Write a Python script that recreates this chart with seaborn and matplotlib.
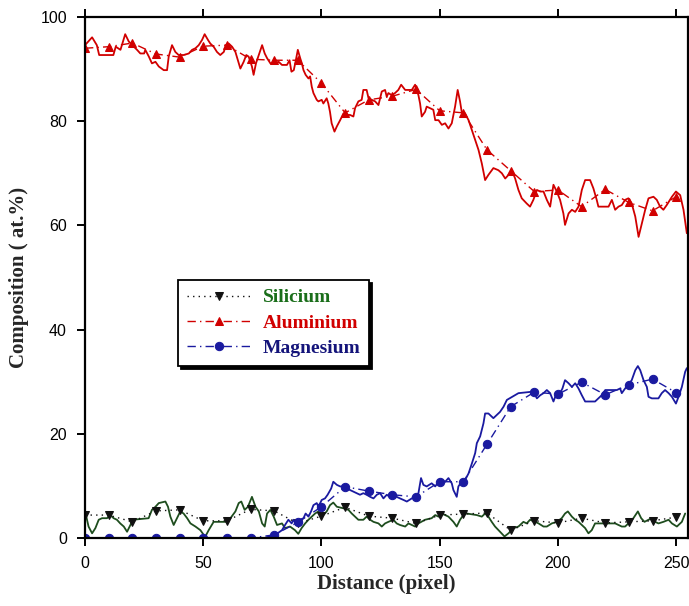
import numpy as np
import pandas as pd
import matplotlib
matplotlib.use("Agg")
import matplotlib.pyplot as plt
import seaborn as sns

# ---------------- data ----------------
mark_x = [0, 10, 20, 30, 40, 50, 60, 70, 80, 90, 100, 110, 120, 130, 140, 150,
          160, 170, 180, 190, 200, 210, 220, 230, 240, 250]
si_mark = [4.4, 4.4, 3.1, 5.2, 5.4, 3.3, 3.3, 5.5, 5.2, 2.8, 4.2, 5.9, 4.2, 3.8,
           2.8, 4.4, 4.6, 4.8, 1.5, 3.3, 2.9, 3.8, 2.9, 3.1, 3.3, 4.0]
al_mark = [94.0, 94.3, 95.0, 92.9, 92.3, 94.4, 94.6, 91.9, 91.7, 91.7, 87.3, 81.6,
           84.1, 84.8, 86.1, 82.0, 81.6, 74.5, 70.5, 66.5, 66.8, 63.6, 66.9, 64.4,
           62.8, 65.5]
mg_mark = [0, 0, 0, 0, 0, 0, 0, 0, 0.6, 3.0, 6.0, 9.85, 9.0, 8.3, 7.9, 10.8, 10.8,
           18.0, 25.2, 28.0, 27.6, 29.9, 27.5, 29.4, 30.5, 27.9]

al_raw_x = [0, 3, 5, 6, 12, 13, 15, 17, 18.5, 20, 22, 23.4, 25, 25.5, 27, 28.3, 29.8,
            31.2, 33.3, 34.7, 35.4, 36.8, 38.2, 39.6, 41.7, 43.9, 45.3, 46.7, 48.1,
            49.5, 50.6, 52, 53, 54.4, 55.8, 57.2, 58.7, 59.6, 60.8, 62.2, 63.6, 65.7,
            67.1, 68.2, 69.2, 70.6, 71.3, 72.3, 73.5, 74.9, 76, 77, 78.4, 80.5, 81.9,
            83.3, 85.4, 86.5, 87.3, 88.3, 89.2, 90, 91, 91.7, 92.4, 93.3, 94.5, 95.2,
            95.9, 96.6, 98, 98.7, 100.1, 100.8, 102.2, 102.9, 103.6, 104.3, 105.5,
            106.5, 107.9, 109.3, 110.7, 112.1, 113.5, 114.2, 115.6, 117, 117.7, 119.1,
            119.9, 121.3, 122.7, 124.1, 125.5, 126.9, 127.6, 128.3, 129.7, 131.1,
            132.5, 133.7, 135.4, 138.2, 139.6, 141, 141.7, 142.4, 143.8, 144.5, 145.9,
            147.3, 148.1, 149.5, 150.9, 152.3, 153.7, 155.1, 156.5, 157.6, 158.6,
            159.3, 160.7, 162.2, 163.6, 165, 166.4, 167.8, 169.2, 170.6, 172.7, 174.8,
            176.3, 177.7, 179.1, 180.5, 181.9, 183.3, 184.7, 186.8, 188.2, 189.6,
            191.1, 192.5, 193.9, 195.3, 196.7, 198.1, 199.5, 200.9, 202.3, 203.0,
            204.5, 205.9, 207.3, 208.7, 210.1, 211.5, 213.6, 215.0, 216.4, 217.1,
            221.4, 222.8, 224.2, 225.6, 227.0, 228.4, 229.8, 231.2, 232.7, 234.1,
            235.5, 236.9, 238.3, 240.4, 241.8, 243.2, 244.6, 246.0, 248.2, 249.9,
            251.7, 253.1, 254.5]
al_raw_y = [94.6, 96.1, 94.6, 92.7, 92.7, 94.3, 93.7, 96.7, 95.3, 94.6, 93.7, 93.0,
            93.0, 93.7, 92.4, 91.1, 91.4, 90.5, 89.8, 89.8, 92.4, 94.6, 93.3, 92.7,
            92.7, 93.0, 93.7, 94.0, 94.6, 95.6, 96.7, 95.6, 94.9, 94.3, 93.3, 92.7,
            93.3, 94.6, 94.9, 94.3, 93.3, 90.1, 91.4, 92.7, 92.4, 90.5, 88.9, 91.1,
            92.7, 94.6, 93.0, 92.1, 91.1, 91.1, 91.4, 90.8, 90.8, 91.7, 89.5, 89.8,
            91.8, 93.7, 92.1, 91.1, 89.8, 88.9, 88.2, 88.6, 86.6, 85.4, 84.1, 83.8,
            84.1, 83.4, 84.4, 83.4, 81.8, 79.6, 78.0, 79.0, 80.2, 81.5, 81.2, 81.2,
            80.9, 82.5, 83.8, 84.1, 86.0, 86.0, 84.4, 84.1, 83.8, 83.1, 85.7, 86.0,
            84.7, 85.4, 85.0, 85.4, 86.0, 87.0, 86.0, 86.0, 87.0, 85.0, 83.4, 80.9,
            81.8, 82.8, 82.5, 82.2, 80.2, 80.2, 79.3, 79.6, 78.6, 79.6, 82.8, 86.0,
            83.8, 81.8, 81.5, 80.2, 78.3, 76.4, 74.5, 71.9, 68.7, 69.7, 71.0, 70.6,
            70.0, 69.0, 69.7, 70.6, 69.0, 66.8, 65.2, 64.2, 63.6, 64.9, 66.8, 66.5,
            66.5, 64.9, 63.6, 67.8, 66.5, 64.9, 62.3, 60.1, 62.3, 63.0, 62.6, 63.6,
            66.8, 68.7, 68.7, 67.1, 64.9, 63.6, 63.6, 64.9, 63.0, 63.6, 63.9, 64.9,
            65.2, 64.2, 61.7, 57.8, 60.4, 63.0, 65.2, 65.5, 64.9, 63.6, 63.0, 63.9,
            65.5, 66.5, 65.8, 63.0, 58.5]

si_raw_x = [0.4, 1.5, 3.0, 4.4, 5.8, 7.2, 9.3, 10.7, 12.1, 13.5, 14.9, 16.4, 17.8,
            19.2, 20.2, 26.9, 28.3, 29.8, 31.2, 34.0, 35.1, 36.1, 37.5, 38.9, 40.3,
            41.7, 43.2, 44.6, 46.7, 48.8, 50.2, 50.9, 52.3, 54.4, 59.4, 61.5, 63.6,
            65.0, 66.1, 67.5, 68.9, 70.6, 72.1, 73.5, 74.9, 76.0, 77.0, 78.4, 79.8,
            81.2, 83.3, 84.6, 86.7, 88.8, 90.2, 91.6, 93.1, 94.5, 95.9, 97.3, 98.7,
            100.8, 102.2, 103.6, 105.0, 106.5, 109.3, 111.4, 112.8, 114.2, 115.6,
            117.7, 119.1, 120.6, 122.0, 124.1, 125.5, 126.9, 128.3, 130.4, 131.8,
            133.2, 135.4, 136.8, 138.2, 139.6, 141.0, 143.8, 146.6, 148.1, 149.5,
            150.9, 152.3, 153.7, 155.8, 157.2, 158.6, 160.0, 161.4, 165.7, 167.8,
            169.2, 170.6, 172.0, 173.4, 175.5, 177.4, 179.1, 181.2, 183.3, 185.4,
            186.8, 188.2, 190.4, 191.8, 193.9, 195.3, 197.4, 199.5, 201.6, 203.0,
            204.2, 205.9, 207.3, 208.7, 210.1, 211.5, 212.9, 214.3, 215.7, 224.2,
            225.6, 227.0, 228.4, 229.8, 231.9, 233.8, 235.2, 236.6, 238.3, 239.7,
            241.1, 242.5, 244.6, 246.8, 248.2, 250.3, 252.4, 253.8]
si_raw_y = [4.4, 2.2, 0.9, 1.9, 3.5, 3.8, 3.8, 4.4, 3.8, 3.5, 2.8, 2.2, 1.2, 2.5,
            3.5, 3.8, 5.4, 6.0, 6.7, 7.0, 6.0, 4.1, 2.5, 3.8, 5.1, 4.7, 3.8, 2.8,
            2.2, 1.5, 0.6, 0.3, 1.5, 3.1, 3.1, 3.8, 5.1, 6.7, 7.0, 5.4, 6.0, 7.9,
            6.0, 5.1, 2.8, 2.2, 4.7, 5.4, 4.1, 2.5, 2.8, 1.9, 2.2, 1.5, 0.8, 1.9,
            2.8, 3.5, 4.1, 4.7, 5.1, 4.4, 5.1, 6.3, 6.8, 6.0, 5.7, 5.4, 4.7, 4.1,
            3.5, 3.5, 4.1, 3.5, 3.1, 2.8, 2.2, 2.8, 3.1, 3.5, 2.8, 2.5, 2.2, 2.8,
            2.5, 2.2, 2.8, 3.5, 3.8, 4.4, 4.1, 4.7, 4.4, 4.1, 3.1, 2.2, 3.5, 4.4,
            4.7, 4.4, 4.1, 4.7, 4.1, 3.1, 2.2, 1.2, 0.3, 0.9, 1.9, 2.2, 3.1, 2.8,
            3.5, 3.1, 2.8, 2.2, 2.2, 2.8, 3.1, 3.8, 4.7, 5.1, 4.1, 3.5, 3.1, 2.5,
            1.9, 0.9, 1.5, 2.8, 2.8, 2.5, 2.2, 2.2, 2.8, 3.8, 5.1, 3.8, 3.1, 3.5,
            3.8, 3.1, 2.8, 3.1, 3.5, 2.8, 2.2, 3.1, 4.7]

mg_raw_x = [0, 76, 78, 80.5, 83.3, 84.6, 86.0, 87.4, 88.1, 89.5, 90.9, 92.4, 93.3,
            94.5, 95.6, 96.6, 98.0, 98.7, 100.1, 101.5, 102.6, 104.1, 105.0, 106.5,
            107.9, 109.3, 110.7, 112.1, 113.5, 114.9, 116.3, 117.7, 119.1, 120.6,
            122.0, 123.4, 124.8, 126.2, 127.6, 129.0, 130.4, 131.8, 133.2, 134.7,
            136.1, 138.2, 139.6, 141.0, 142.1, 143.1, 144.5, 146.6, 148.1, 149.5,
            150.9, 152.3, 153.7, 155.1, 155.8, 157.2, 157.9, 159.3, 160.7, 162.2,
            163.6, 165.0, 165.7, 167.1, 168.5, 169.2, 170.6, 172.7, 175.5, 177.0,
            178.4, 183.3, 189.6, 191.1, 192.5, 193.9, 195.3, 196.7, 198.1, 199.1,
            200.9, 201.9, 203.0, 204.5, 205.9, 207.3, 208.7, 210.1, 211.5, 215.7,
            217.1, 218.5, 220.0, 224.9, 226.3, 227.0, 228.4, 229.8, 231.2, 232.7,
            233.8, 234.8, 236.2, 237.6, 238.3, 239.7, 242.5, 243.9, 245.3, 246.8,
            248.2, 249.9, 251.0, 252.4, 253.8, 254.5]
mg_raw_y = [0, 0, 0.3, 0.6, 1.5, 2.5, 3.5, 2.8, 3.5, 2.5, 3.5, 3.8, 4.7, 4.1, 5.1,
            6.3, 6.7, 6.0, 7.3, 7.6, 8.3, 9.5, 10.8, 10.2, 9.9, 9.9, 9.5, 9.2, 8.9,
            8.6, 8.3, 8.6, 8.3, 7.9, 7.6, 8.3, 8.6, 7.6, 8.3, 7.9, 8.3, 7.9, 7.6,
            7.3, 7.0, 7.6, 7.9, 8.6, 11.5, 10.2, 9.9, 10.5, 9.9, 10.8, 11.1, 10.8,
            11.5, 10.5, 9.2, 7.9, 9.9, 10.8, 11.1, 12.4, 14.3, 16.3, 18.2, 19.5,
            22.0, 23.9, 23.9, 23.0, 24.2, 25.2, 26.5, 27.8, 28.1, 26.8, 27.4, 27.8,
            28.4, 27.8, 26.2, 27.4, 27.8, 28.7, 30.3, 29.7, 29.0, 29.7, 28.7, 27.4,
            26.2, 26.2, 26.8, 27.4, 28.4, 28.4, 28.7, 27.8, 28.7, 29.4, 30.3, 32.2,
            33.0, 32.2, 30.3, 29.0, 27.1, 26.8, 26.8, 27.8, 28.4, 27.8, 27.1, 25.8,
            27.1, 29.0, 31.9, 32.6]

x_ticks = [0, 50, 100, 150, 200, 250]
y_ticks = [0, 20, 40, 60, 80, 100]

# ---------------- style ----------------
sns.set_style("ticks")
plt.rcParams['font.family'] = ['Liberation Sans Narrow', 'Liberation Sans', 'DejaVu Sans']

C_SI, C_AL, C_MG = "#1e4d1e", "#d10000", "#1a1aa0"
C_SI_TXT, C_MG_TXT = "#1a6e1a", "#14147a"

fig = plt.figure(figsize=(6.89, 6.06), dpi=100)
ax = fig.add_axes([85 / 689, 68 / 606, 603 / 689, 521 / 606])

raw = pd.concat([
    pd.DataFrame({"x": si_raw_x, "y": si_raw_y, "s": "Si"}),
    pd.DataFrame({"x": al_raw_x, "y": al_raw_y, "s": "Al"}),
    pd.DataFrame({"x": mg_raw_x, "y": mg_raw_y, "s": "Mg"}),
])
for name, col in [("Si", C_SI), ("Al", C_AL), ("Mg", C_MG)]:
    d = raw[raw.s == name]
    sns.lineplot(data=d, x="x", y="y", ax=ax, color=col, lw=1.3,
                 sort=False, estimator=None, legend=False)

smooth = [("Silicium", si_mark, "#111111", "v", (0, (1, 3))),
          ("Aluminium", al_mark, C_AL, "^", (0, (6, 3, 1, 3))),
          ("Magnesium", mg_mark, C_MG, "o", (0, (6, 3, 1, 3)))]
for lab, vals, col, mk, ls in smooth:
    d = pd.DataFrame({"x": mark_x, "y": vals})
    sns.lineplot(data=d, x="x", y="y", ax=ax, color=col,
                 lw=1.0, linestyle=ls, marker=mk, markersize=6,
                 markeredgecolor=col, markerfacecolor=col,
                 sort=False, estimator=None, label=lab)

ax.set_xlim(0, 255)
ax.set_ylim(0, 100)
ax.set_xticks(x_ticks)
ax.set_yticks(y_ticks)
for s in ax.spines.values():
    s.set_visible(True)
    s.set_linewidth(1.6)
    s.set_color("black")
ax.tick_params(axis="both", which="major", labelsize=11.5, length=6, width=1.4,
               direction="out", colors="black")
ax.tick_params(axis="x", top=True, pad=7)
ax.tick_params(axis="y", pad=7)

serif = ['Liberation Serif', 'DejaVu Serif']
ax.set_xlabel("Distance (pixel)", fontsize=15, fontweight="bold", family=serif, labelpad=2)
ax.set_ylabel("Composition ( at.%)", fontsize=15, fontweight="bold", family=serif, labelpad=8)

leg = ax.legend(loc="upper left", bbox_to_anchor=(0.154, 0.495), frameon=True,
                shadow={"color": "black", "alpha": 1.0}, fancybox=False,
                prop={"family": serif, "weight": "bold", "size": 14},
                handlelength=3.3, borderpad=0.45, labelspacing=0.4,
                handletextpad=0.6, borderaxespad=0)
leg.get_frame().set_edgecolor("black")
leg.get_frame().set_linewidth(1.3)
for t, c in zip(leg.get_texts(), [C_SI_TXT, C_AL, C_MG_TXT]):
    t.set_color(c)

fig.savefig("out.png", dpi=100, facecolor="white")
